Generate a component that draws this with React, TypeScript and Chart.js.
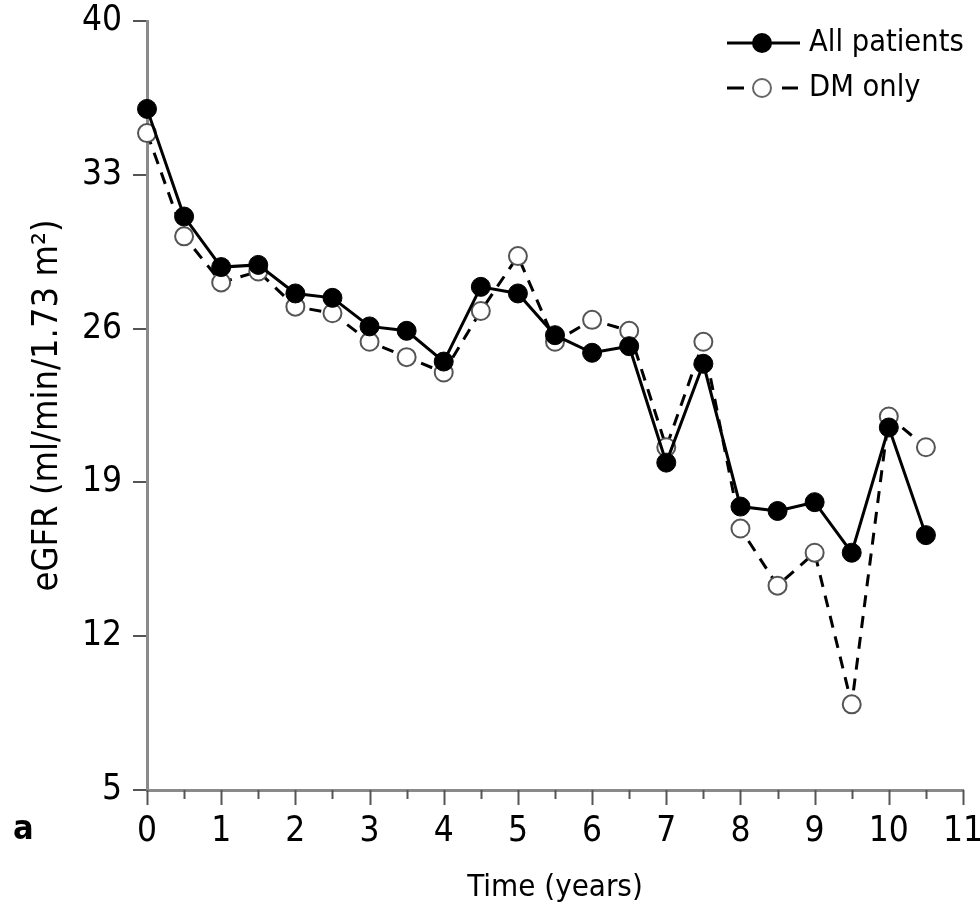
import React, { useEffect, useRef } from "react";
import { Chart, registerables } from "chart.js";

Chart.register(...registerables);

// ---- data ----
const years = [0, 0.5, 1, 1.5, 2, 2.5, 3, 3.5, 4, 4.5, 5, 5.5, 6, 6.5, 7, 7.5, 8, 8.5, 9, 9.5, 10, 10.5];
const allPatients = [36.0, 31.1, 28.8, 28.9, 27.6, 27.4, 26.1, 25.9, 24.5, 27.9, 27.6, 25.7, 24.9, 25.2, 19.9, 24.4, 17.9, 17.7, 18.1, 15.8, 21.5, 16.6];
const dmOnly = [34.9, 30.2, 28.1, 28.6, 27.0, 26.7, 25.4, 24.7, 24.0, 26.8, 29.3, 25.4, 26.4, 25.9, 20.6, 25.4, 16.9, 14.3, 15.8, 8.9, 22.0, 20.6];
const seriesNames = ["All patients", "DM only"];
const yTickValues = [5, 12, 19, 26, 33, 40];
const xTickValues = [0, 1, 2, 3, 4, 5, 6, 7, 8, 9, 10, 11];
const xMinorStep = 0.5;
const xTitle = "Time (years)";
const yTitle = "eGFR (ml/min/1.73 m²)";
const panelLabel = "a";

const FONT = '"Liberation Sans Narrow", "DejaVu Sans Condensed", "Liberation Sans", sans-serif';
const AXIS_GRAY = "#8a8a8a";

const overlayPlugin = {
  id: "overlay",
  afterDraw(chart: any) {
    const ctx = chart.ctx;
    const xs = chart.scales.x;
    const axisY = chart.chartArea.bottom;
    ctx.save();
    // x tick marks (major + minor)
    ctx.strokeStyle = "#555";
    ctx.lineWidth = 2;
    const xmin = xTickValues[0];
    const xmax = xTickValues[xTickValues.length - 1];
    for (let v = xmin; v <= xmax + 1e-9; v += xMinorStep) {
      const px = Math.round(xs.getPixelForValue(v)) + 0.5;
      const major = Math.abs(v - Math.round(v)) < 1e-9;
      ctx.beginPath();
      ctx.moveTo(px, axisY);
      ctx.lineTo(px, axisY + (major ? 15 : 9));
      ctx.stroke();
    }
    // panel label
    ctx.fillStyle = "#000";
    ctx.font = `bold 34px ${FONT}`;
    ctx.textAlign = "left";
    ctx.textBaseline = "middle";
    ctx.fillText(panelLabel, 13, 830);

    // legend
    const lx0 = 727, lx1 = 800, mx = 762, tx = 809;
    const rows = [43, 88];
    ctx.strokeStyle = "#000";
    ctx.lineWidth = 3;
    ctx.beginPath();
    ctx.moveTo(lx0, rows[0]);
    ctx.lineTo(lx1, rows[0]);
    ctx.stroke();
    ctx.fillStyle = "#000";
    ctx.beginPath();
    ctx.arc(mx, rows[0], 10, 0, Math.PI * 2);
    ctx.fill();
    ctx.beginPath();
    ctx.moveTo(lx0, rows[1]);
    ctx.lineTo(lx0 + 17, rows[1]);
    ctx.moveTo(lx1 - 18, rows[1]);
    ctx.lineTo(lx1 - 2, rows[1]);
    ctx.stroke();
    ctx.fillStyle = "#fff";
    ctx.strokeStyle = "#666";
    ctx.lineWidth = 2;
    ctx.beginPath();
    ctx.arc(mx, rows[1], 9, 0, Math.PI * 2);
    ctx.fill();
    ctx.stroke();
    ctx.fillStyle = "#000";
    ctx.font = `30.5px ${FONT}`;
    ctx.fillText(seriesNames[0], tx, rows[0]);
    ctx.fillText(seriesNames[1], tx, rows[1]);
    ctx.restore();
  },
};

export default function App() {
  const ref = useRef<HTMLCanvasElement | null>(null);
  useEffect(() => {
    if (!ref.current) return;
    const padLeft = 16;
    const padBottom = 1;
    const chart = new Chart(ref.current, {
      type: "line",
      data: {
        datasets: [
          {
            label: seriesNames[0],
            data: years.map((x, i) => ({ x, y: allPatients[i] })),
            borderColor: "#000",
            borderWidth: 3,
            backgroundColor: "#000",
            pointBackgroundColor: "#000",
            pointBorderColor: "#000",
            pointBorderWidth: 1,
            pointRadius: 9.5,
            tension: 0,
            clip: false as any,
          },
          {
            label: seriesNames[1],
            data: years.map((x, i) => ({ x, y: dmOnly[i] })),
            borderColor: "#000",
            borderWidth: 3,
            borderDash: [12, 9],
            backgroundColor: "#fff",
            pointBackgroundColor: "#fff",
            pointBorderColor: "#555",
            pointBorderWidth: 2,
            pointRadius: 9,
            tension: 0,
            clip: false as any,
          },
        ],
      },
      options: {
        animation: false,
        responsive: true,
        maintainAspectRatio: false,
        layout: { padding: { left: padLeft, right: 17, top: 21, bottom: padBottom } },
        plugins: { legend: { display: false }, tooltip: { enabled: false } },
        scales: {
          x: {
            type: "linear",
            min: xTickValues[0],
            max: xTickValues[xTickValues.length - 1],
            afterBuildTicks: (scale: any) => {
              scale.ticks = xTickValues.map((v) => ({ value: v }));
            },
            ticks: {
              color: "#000",
              font: { family: FONT, size: 35 },
              padding: 21,
              autoSkip: false,
              maxRotation: 0,
            },
            grid: { display: false, drawTicks: false },
            border: { display: true, color: AXIS_GRAY, width: 3 },
            title: {
              display: true,
              text: xTitle,
              color: "#000",
              font: { family: FONT, size: 31 },
              padding: { top: 0, bottom: 0 },
            },
            afterFit: (scale: any) => {
              scale.height = 908 - 790 - padBottom;
              scale.paddingLeft = 0;
              scale.paddingRight = 0;
            },
          },
          y: {
            type: "linear",
            min: yTickValues[0],
            max: yTickValues[yTickValues.length - 1],
            afterBuildTicks: (scale: any) => {
              scale.ticks = yTickValues.map((v) => ({ value: v }));
            },
            ticks: {
              color: "#000",
              font: { family: FONT, size: 35 },
              padding: 11,
            },
            grid: { drawOnChartArea: false, drawTicks: true, tickLength: 14, color: "#555", lineWidth: 2 },
            border: { display: true, color: AXIS_GRAY, width: 3 },
            title: {
              display: true,
              text: yTitle,
              color: "#000",
              font: { family: FONT, size: 36 },
              padding: { top: 10, bottom: 0 },
            },
            afterFit: (scale: any) => {
              scale.width = 147 - padLeft;
              scale.paddingTop = 0;
              scale.paddingBottom = 0;
            },
          },
        },
      },
      plugins: [overlayPlugin],
    });
    return () => chart.destroy();
  }, []);
  return (
    <div style={{ position: "fixed", left: 0, top: 0, width: 980, height: 908, background: "#fff" }}>
      <canvas ref={ref} />
    </div>
  );
}
